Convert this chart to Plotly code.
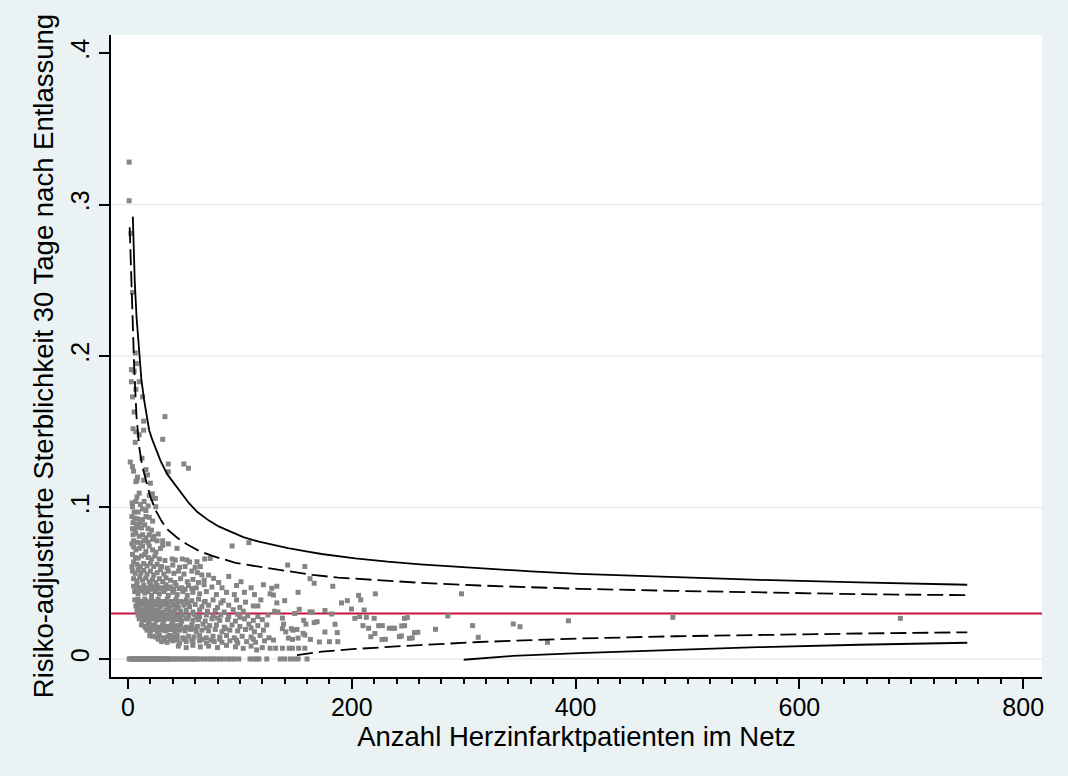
import plotly.graph_objects as go

# ---------------- axis / reference values ----------------
x_ticks = [0, 200, 400, 600, 800]
y_ticks = [0, 0.1, 0.2, 0.3, 0.4]
y_tick_text = ["0", ".1", ".2", ".3", ".4"]
grid_levels = [0, 0.1, 0.2, 0.3]
overall_rate = 0.030

# ---------------- funnel limits ----------------
upper_998_n = [4.3, 5, 6, 7.6, 10, 12, 14.4, 18.9, 21.8, 29, 35, 41, 48, 54.5, 62, 72, 81, 90, 103, 117, 130, 143, 158, 173,
               203, 232, 261, 314, 360, 403, 483, 564, 653, 750]
upper_998_rate = [0.292, 0.272, 0.250, 0.226, 0.1995, 0.184, 0.171, 0.151, 0.1446, 0.131, 0.122, 0.116, 0.109, 0.1028,
                  0.097, 0.0915, 0.0875, 0.0845, 0.0805, 0.0774, 0.0752, 0.0731, 0.0712, 0.0693, 0.0664, 0.0642,
                  0.0625, 0.0598, 0.0578, 0.0562, 0.0540, 0.0522, 0.0505, 0.0490]
upper_95_n = [1.5, 2.2, 2.8, 4, 5.5, 7.6, 10, 12.5, 15.9, 20, 24.8, 30, 35.2, 44, 53, 63, 75.3, 86, 96, 117, 143.3, 165,
              187.8, 232.3, 260.6, 314, 360, 403, 486, 563, 652.6, 750]
upper_95_rate = [0.285, 0.268, 0.252, 0.222, 0.193, 0.160, 0.140, 0.128, 0.118, 0.107, 0.098, 0.091, 0.0855, 0.080,
                 0.0755, 0.0715, 0.0680, 0.0655, 0.0635, 0.0609, 0.0578, 0.0555, 0.0537, 0.0515, 0.0503, 0.0485,
                 0.0472, 0.0463, 0.0450, 0.0440, 0.0428, 0.0421]
lower_95_n = [151, 173, 203, 232, 261, 314, 360, 403, 489, 563, 653, 750]
lower_95_rate = [0.0026, 0.0048, 0.0066, 0.0081, 0.0092, 0.0112, 0.0125, 0.0135, 0.0150, 0.0159, 0.0168, 0.0176]
lower_998_n = [300, 344, 403, 489, 563, 653, 750]
lower_998_rate = [-0.0005, 0.0020, 0.0039, 0.0060, 0.0078, 0.0094, 0.0107]

# ---------------- networks with zero deaths ----------------
zero_n = [1, 2, 3, 4, 5, 6, 7, 8, 9, 10, 11, 12, 13, 14, 15, 16, 17, 18, 19, 20, 21, 22, 23, 24, 25, 26, 27, 28,
          29, 30, 31, 32, 33, 34, 35, 36, 38, 40, 42, 44, 46, 48, 50, 52, 54, 56, 58, 60, 62, 65, 68, 71, 74,
          76, 79, 82, 85, 89, 92, 95, 99, 109, 112, 115, 117, 124, 136, 140, 145, 149, 152, 160]

# ---------------- networks with deaths: (patients, adjusted rate) ----------------
tail_pts = [
    (1, 0.328), (1, 0.3025), (2.5, 0.281), (4, 0.242), (6.5, 0.202), (7.5, 0.195),
    (3, 0.191), (5.5, 0.190), (10, 0.183), (3, 0.183), (7, 0.178), (4, 0.173),
    (13, 0.173), (5.5, 0.163), (14, 0.157), (33, 0.160), (4.5, 0.152), (7, 0.150),
    (10, 0.148), (14, 0.151), (31, 0.145), (6.5, 0.143), (2, 0.130), (4, 0.127),
    (12.5, 0.1325), (5, 0.124), (8.5, 0.120), (16, 0.125), (17.5, 0.1215), (36, 0.1287),
    (36, 0.1236), (50, 0.1287), (54, 0.1259), (8, 0.118), (14, 0.118), (20, 0.116), (7, 0.117),
]
band_b = [
    (8, 0.107), (10, 0.1095), (21.8, 0.109), (21.8, 0.106), (19, 0.108), (24.5, 0.106), (7, 0.104),
    (14.4, 0.104), (16, 0.098), (4, 0.1005), (5.5, 0.097), (24.8, 0.1005), (3.7, 0.103), (11, 0.102),
    (18, 0.101), (13, 0.099), (9, 0.097), (3.5, 0.094), (6, 0.093), (8.5, 0.0925), (13, 0.092),
    (16, 0.094), (19, 0.0935), (11, 0.090), (22, 0.091), (4.5, 0.090), (7.5, 0.089), (15, 0.0885),
]
band_c = [
    (4, 0.086), (6, 0.0855), (9, 0.087), (12, 0.0865), (18, 0.086), (21, 0.085), (4.5, 0.082),
    (7, 0.083), (10, 0.081), (13, 0.082), (16, 0.080), (19, 0.082), (23, 0.081), (27, 0.0825),
    (5, 0.078), (8, 0.077), (11, 0.0765), (14, 0.078), (18, 0.077), (22, 0.079), (26, 0.078),
    (31, 0.078), (36, 0.076), (31, 0.075), (93, 0.0746), (108, 0.0768), (3.5, 0.076),
]
band_d = [
    (5, 0.074), (7, 0.072), (10, 0.073), (13, 0.0745), (16, 0.071), (19, 0.0745), (22, 0.072),
    (25, 0.0705), (29, 0.073), (43.8, 0.073), (4, 0.069), (6.5, 0.067), (9, 0.0665), (12, 0.068),
    (15, 0.069), (18, 0.067), (21, 0.066), (24, 0.068), (28, 0.066), (33, 0.065), (39.5, 0.066),
    (48.5, 0.066), (42.3, 0.0653), (52.7, 0.0653), (68.5, 0.066), (73.5, 0.0664), (5, 0.064),
    (8, 0.0625), (11, 0.061), (14, 0.063), (17, 0.0615), (20, 0.063), (23, 0.061), (26, 0.0625),
    (30, 0.061), (35, 0.060), (40, 0.062), (46, 0.0605), (51, 0.061), (55, 0.064), (60, 0.0605),
    (61.6, 0.0642), (64.6, 0.061), (3.5, 0.061), (142.7, 0.062), (158, 0.061),
]
band_e = [
    (4, 0.058), (6.5, 0.0565), (9, 0.059), (11.5, 0.057), (14, 0.0585), (17, 0.056), (20, 0.058),
    (23, 0.0555), (26, 0.057), (29, 0.059), (32, 0.056), (36, 0.058), (41, 0.0565), (45, 0.058),
    (50, 0.056), (57, 0.058), (62, 0.057), (66, 0.0555), (72, 0.0554), (76.5, 0.0532), (5, 0.053),
    (8, 0.0515), (10.5, 0.054), (13, 0.052), (16, 0.0535), (19, 0.051), (22, 0.0525), (25, 0.0505),
    (28, 0.053), (31, 0.051), (34, 0.0535), (38, 0.052), (42, 0.0505), (47, 0.053), (53, 0.051),
    (58, 0.0525), (63, 0.0505), (68, 0.052), (81, 0.0505), (90, 0.0545), (101, 0.051),
    (162.6, 0.053), (166.4, 0.050),
]
band_f = [
    (5, 0.048), (8, 0.049), (11, 0.047), (14, 0.0485), (17, 0.047), (20, 0.049), (23, 0.0475),
    (26, 0.0485), (30, 0.047), (34, 0.049), (38, 0.0475), (43, 0.0485), (48, 0.047), (54, 0.0485),
    (61, 0.047), (68, 0.049), (75, 0.0475), (84, 0.047), (97, 0.0485), (110, 0.047), (121, 0.049),
    (128.5, 0.0467), (133, 0.048), (183, 0.048), (6, 0.0445), (9, 0.043), (12, 0.045), (15, 0.0435),
    (18, 0.0445), (21, 0.042), (24, 0.0445), (28, 0.043), (32, 0.0445), (36, 0.042), (40, 0.044),
    (44, 0.0425), (49, 0.0445), (53, 0.042), (58, 0.044), (64, 0.043), (70, 0.0445), (79, 0.0425),
    (88, 0.044), (95, 0.0425), (104, 0.044), (113, 0.0425), (127, 0.043), (130, 0.0422), (152, 0.044),
    (206, 0.042), (221, 0.043), (298, 0.043),
]
band_g = [
    (6, 0.039), (9, 0.0395), (12, 0.038), (15, 0.0395), (18, 0.038), (21, 0.0395), (24, 0.038),
    (27, 0.0395), (31, 0.038), (35, 0.0395), (39, 0.038), (43, 0.0395), (47, 0.038), (52, 0.039),
    (57, 0.0385), (63, 0.0395), (69, 0.038), (76, 0.039), (85, 0.0385), (97, 0.039), (105, 0.0375),
    (118.7, 0.039), (140, 0.0385), (196, 0.0385), (208, 0.039),
    (7, 0.035), (10, 0.0345), (13, 0.036), (16, 0.034), (19, 0.0355), (22, 0.034), (25, 0.0355),
    (29, 0.0345), (33, 0.036), (37, 0.034), (41, 0.0355), (45, 0.034), (50, 0.0355), (55, 0.0345),
    (60, 0.036), (66, 0.0345), (72, 0.0355), (80, 0.034), (90, 0.0355), (100, 0.034), (112, 0.035),
    (116, 0.035), (133, 0.037), (190.8, 0.037),
    (8, 0.032), (11, 0.0315), (14, 0.0325), (17, 0.031), (20, 0.0325), (23, 0.0315), (26, 0.032),
    (30, 0.031), (34, 0.0325), (38, 0.031), (42, 0.0325), (47, 0.0315), (52, 0.032), (58, 0.031),
    (64, 0.0325), (71, 0.0315), (78, 0.032), (86, 0.031), (94, 0.0325), (103, 0.0315), (131, 0.0315),
    (134, 0.031), (153, 0.0328), (199.7, 0.033), (211, 0.0323), (162.6, 0.031), (164.6, 0.031), (176, 0.032),
]
band_h = [
    (9, 0.029), (12, 0.0285), (15, 0.0295), (18, 0.028), (21, 0.029), (24, 0.0285), (27, 0.0295),
    (30, 0.028), (33, 0.029), (37, 0.0285), (41, 0.0295), (45, 0.028), (49, 0.029), (54, 0.0285),
    (59, 0.0295), (64, 0.028), (70, 0.029), (76, 0.0285), (83, 0.029), (90, 0.028), (98, 0.0295),
    (107, 0.0285), (116, 0.028), (125, 0.029), (149, 0.030), (182, 0.0297), (285.8, 0.0284),
    (10, 0.0265), (13, 0.0255), (16, 0.026), (19, 0.025), (22, 0.0265), (25, 0.0255), (28, 0.026),
    (32, 0.025), (36, 0.0265), (40, 0.0255), (44, 0.026), (48, 0.025), (53, 0.0265), (58, 0.0255),
    (63, 0.026), (69, 0.025), (75, 0.0265), (82, 0.0255), (89, 0.026), (96, 0.025), (104, 0.0265),
    (112, 0.0255), (120, 0.026), (138, 0.027), (157, 0.0255), (166.4, 0.024), (169, 0.0246),
    (202.7, 0.0268), (207, 0.028), (213, 0.0275), (220, 0.0268), (247, 0.0268), (249.6, 0.0273),
    (486.9, 0.0275), (690.2, 0.0268), (393.6, 0.0252),
    (12, 0.0225), (15, 0.0215), (18, 0.023), (21, 0.022), (24, 0.0225), (27, 0.021), (31, 0.0225),
    (35, 0.0215), (39, 0.023), (43, 0.022), (47, 0.0225), (52, 0.021), (57, 0.0225), (62, 0.0215),
    (67, 0.023), (73, 0.022), (79, 0.0225), (86, 0.021), (93, 0.0225), (100, 0.0215), (108, 0.023),
    (116, 0.022), (124, 0.0225), (139, 0.023), (159, 0.023), (185, 0.0229), (210, 0.022), (224, 0.022),
    (227.3, 0.022), (247.2, 0.022), (308, 0.022), (244.6, 0.0218), (344.3, 0.0231), (350.3, 0.0213),
]
band_i = [
    (17, 0.019), (20, 0.0185), (23, 0.0195), (26, 0.018), (30, 0.019), (34, 0.0185), (38, 0.0195),
    (42, 0.018), (46, 0.019), (51, 0.0185), (56, 0.0195), (61, 0.018), (66, 0.019), (72, 0.0185),
    (78, 0.0195), (84, 0.018), (91, 0.019), (98, 0.0185), (105, 0.0195), (113, 0.018), (121, 0.019),
    (138, 0.020), (141, 0.0179), (146, 0.020), (147.5, 0.019), (151, 0.0195), (176, 0.0178), (187, 0.0174),
    (215, 0.0203), (233.5, 0.0203), (236.5, 0.0203), (238.3, 0.0203), (256, 0.0174), (259, 0.0176),
    (274.8, 0.0196), (19.5, 0.0154),
    (22, 0.015), (25, 0.0145), (28, 0.0155), (32, 0.014), (36, 0.015), (40, 0.0145), (44, 0.0155),
    (49, 0.014), (54, 0.015), (59, 0.0145), (64, 0.0155), (70, 0.014), (76, 0.015), (82, 0.0145),
    (88, 0.0155), (95, 0.014), (102, 0.015), (110, 0.0145), (118, 0.0155), (126, 0.014), (156.5, 0.0169),
    (158, 0.0158), (217, 0.0147), (220.6, 0.0168), (242.5, 0.0147), (244.3, 0.0152), (313, 0.0143),
    (38, 0.0156), (230, 0.013),
    (30, 0.0115), (35, 0.011), (40, 0.012), (46, 0.0105), (52, 0.0115), (58, 0.011), (64, 0.012),
    (70, 0.0105), (77, 0.0115), (84, 0.011), (91, 0.012), (98, 0.0105), (106, 0.0115), (114, 0.011),
    (122, 0.012), (143.3, 0.0138), (147, 0.0129), (152, 0.0138), (163, 0.0129), (171, 0.0112),
    (180, 0.0114), (187.5, 0.0114), (227, 0.0129), (251.5, 0.0136), (254, 0.0139), (374.9, 0.011),
]
band_j = [
    (45, 0.0085), (52, 0.0075), (58, 0.009), (64.6, 0.008), (72, 0.0085), (80, 0.0075), (88, 0.009),
    (96, 0.008), (103, 0.007), (110, 0.0085), (115, 0.006), (120, 0.0075), (127, 0.0071), (132, 0.0071),
    (138, 0.0071), (144, 0.0071), (147, 0.0071), (152.5, 0.0071), (158, 0.0071),
]
fill_pts = [
    (7.5, 0.046), (10.5, 0.0465), (13.5, 0.046), (16.5, 0.0465), (19.5, 0.046), (22.5, 0.0465),
    (25.5, 0.046), (29, 0.0465), (33, 0.046), (37, 0.0465), (41, 0.046), (46, 0.0465), (51, 0.046), (57, 0.0465),
    (8.5, 0.037), (11.5, 0.0375), (14.5, 0.037), (17.5, 0.0375), (20.5, 0.037), (23.5, 0.0375), (27, 0.037),
    (31, 0.0375), (35, 0.037), (39, 0.0375), (44, 0.037), (49, 0.0375), (54, 0.037), (68, 0.0375), (83, 0.037),
    (11.5, 0.0275), (14.5, 0.027), (17.5, 0.0275), (20.5, 0.027), (23.5, 0.0275), (27, 0.027), (31, 0.0275),
    (35, 0.027), (39, 0.0275), (43, 0.027), (47, 0.0275), (52, 0.027), (61, 0.0275), (80, 0.027), (100, 0.0275),
    (16, 0.0205), (19, 0.020), (22, 0.0205), (25, 0.020), (29, 0.0205), (33, 0.020), (37, 0.0205),
    (41, 0.020), (45, 0.0205), (50, 0.020), (55, 0.0205), (60, 0.020), (70, 0.0205), (87, 0.020), (110, 0.0205),
    (27, 0.013), (33, 0.0125), (38, 0.013), (44, 0.0125), (50, 0.013), (57, 0.0125), (66, 0.013),
    (74, 0.0125), (82, 0.013), (97, 0.0125), (112, 0.013), (130, 0.0125),
]

# ---------------- assemble scatter data ----------------
point_groups = [tail_pts, band_b, band_c, band_d, band_e, band_f, band_g, band_h, band_i, band_j, fill_pts]
scatter_n = list(zero_n)
scatter_rate = [0.0 for _ in zero_n]
for group in point_groups:
    for n, r in group:
        scatter_n.append(n)
        scatter_rate.append(r)

FONT = "Liberation Sans, Arial, sans-serif"
BG = "#eaf2f3"
GRID = "#e6eef0"

fig = go.Figure()

fig.add_trace(go.Scatter(
    x=scatter_n, y=scatter_rate, mode="markers",
    marker=dict(symbol="square", size=5, color="#858585", line=dict(width=0)),
    showlegend=False, hoverinfo="skip"))

line_specs = [
    (upper_998_n, upper_998_rate, "solid"),
    (lower_998_n, lower_998_rate, "solid"),
    (upper_95_n, upper_95_rate, "16px,6px"),
    (lower_95_n, lower_95_rate, "16px,6px"),
]
for xs, ys, dash in line_specs:
    fig.add_trace(go.Scatter(
        x=xs, y=ys, mode="lines", line=dict(color="black", width=1.8, dash=dash),
        showlegend=False, hoverinfo="skip"))

shapes = []
for g in grid_levels:
    shapes.append(dict(type="line", xref="paper", x0=0, x1=1, yref="y", y0=g, y1=g,
                       line=dict(color=GRID, width=1.5), layer="below"))
shapes.append(dict(type="line", xref="paper", x0=0, x1=1, yref="y", y0=overall_rate, y1=overall_rate,
                   line=dict(color="#c8143c", width=2), layer="below"))

fig.update_layout(
    width=1068, height=776,
    margin=dict(l=111, r=26, t=35, b=99, autoexpand=False),
    paper_bgcolor=BG, plot_bgcolor="white",
    font=dict(family=FONT, color="black", size=24),
    shapes=shapes,
    xaxis=dict(
        range=[-15.2, 816.8], tickmode="array", tickvals=x_ticks,
        ticks="outside", ticklen=10, tickwidth=1.8, tickcolor="black",
        showline=True, linecolor="black", linewidth=1.8,
        showgrid=False, zeroline=False,
        tickfont=dict(size=25), ticklabelstandoff=-3,
        minor=dict(tickmode="linear", tick0=0, dtick=20, ticks="outside", ticklen=5,
                   tickwidth=1.5, tickcolor="black", showgrid=False),
        title=dict(text="Anzahl Herzinfarktpatienten im Netz", font=dict(size=27.5), standoff=0),
        automargin=False,
    ),
    yaxis=dict(
        range=[-0.0119, 0.4119], tickmode="array", tickvals=y_ticks, ticktext=y_tick_text,
        tickangle=-90, ticks="outside", ticklen=10, tickwidth=1.8, tickcolor="black",
        showline=True, linecolor="black", linewidth=1.8,
        showgrid=False, zeroline=False,
        tickfont=dict(size=25),
        title=dict(text="Risiko-adjustierte Sterblichkeit 30 Tage nach Entlassung",
                   font=dict(size=27.5), standoff=4),
        automargin=False,
    ),
)

fig.write_html("out.html")
